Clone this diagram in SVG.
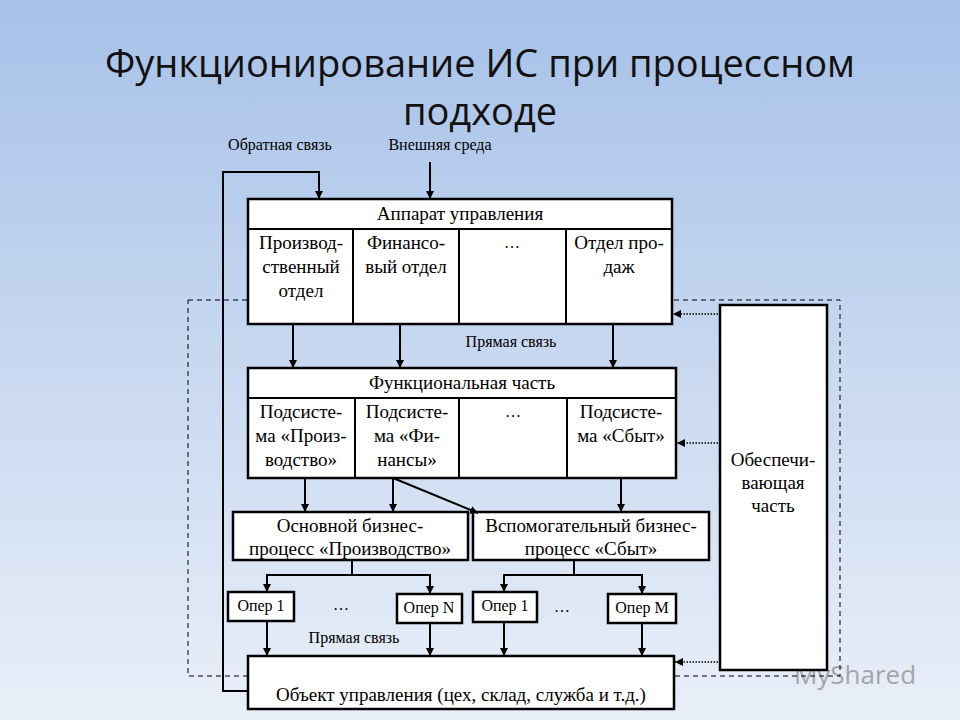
<svg xmlns="http://www.w3.org/2000/svg" width="960" height="720" viewBox="0 0 960 720">
<defs>
<linearGradient id="bg" x1="0" y1="0" x2="0" y2="1"><stop offset="0" stop-color="#a6c1e8"/><stop offset="1" stop-color="#e9eff8"/></linearGradient>
<marker id="a" viewBox="0 0 10 10" refX="10" refY="5" markerWidth="8" markerHeight="8" markerUnits="userSpaceOnUse" orient="auto"><path d="M0,0L10,5L0,10z" fill="#000"/></marker>
<style>
.b{fill:#fff;stroke:#000;stroke-width:2.5}
.l{fill:none;stroke:#000;stroke-width:2}
.t{font-family:"Liberation Serif",serif;font-size:19px;text-anchor:middle;fill:#000}
.s{font-family:"Liberation Serif",serif;font-size:16px;text-anchor:middle;fill:#000}
.d{fill:none;stroke:#000;stroke-width:1;stroke-dasharray:5,4}
.o{fill:none;stroke:#000;stroke-width:1.5;stroke-dasharray:1.5,1.5}
</style>
</defs>
<rect width="960" height="720" fill="url(#bg)"/>
<text x="480" y="77" font-family="Open Sans,Liberation Sans,sans-serif" font-size="38" text-anchor="middle" fill="#111">Функционирование ИС при процессном</text>
<text x="480" y="125" font-family="Open Sans,Liberation Sans,sans-serif" font-size="38" text-anchor="middle" fill="#111">подходе</text>
<text x="855" y="684" font-family="Open Sans,Liberation Sans,sans-serif" font-size="26" text-anchor="middle" fill="#888" opacity="0.7">MyShared</text>
<text class="s" x="280" y="150">Обратная связь</text>
<text class="s" x="440" y="150">Внешняя среда</text>
<rect class="d" x="188" y="300" width="652" height="376"/>
<g id="apparat">
<rect class="b" x="248" y="199" width="424" height="125"/>
<line class="l" x1="248" y1="229" x2="672" y2="229"/>
<line class="l" x1="353" y1="229" x2="353" y2="324" stroke-width="3"/>
<line class="l" x1="459" y1="229" x2="459" y2="324" stroke-width="3"/>
<line class="l" x1="566" y1="229" x2="566" y2="324" stroke-width="3"/>
<text class="t" x="460" y="220">Аппарат управления</text>
<text class="t" x="301" y="249">Производ-</text><text class="t" x="301" y="273">ственный</text><text class="t" x="301" y="297">отдел</text>
<text class="t" x="406" y="249">Финансо-</text><text class="t" x="406" y="273">вый отдел</text>
<text class="s" x="512" y="248" fill="#777">…</text>
<text class="t" x="619" y="249">Отдел про-</text><text class="t" x="619" y="273">даж</text>
</g>
<g id="func">
<rect class="b" x="248" y="368" width="428" height="110"/>
<line class="l" x1="248" y1="398" x2="676" y2="398"/>
<line class="l" x1="355" y1="398" x2="355" y2="478"/>
<line class="l" x1="459" y1="398" x2="459" y2="478"/>
<line class="l" x1="567" y1="398" x2="567" y2="478"/>
<text class="t" x="462" y="389">Функциональная часть</text>
<text class="t" x="301" y="418">Подсисте-</text><text class="t" x="301" y="442">ма «Произ-</text><text class="t" x="301" y="466">водство»</text>
<text class="t" x="407" y="418">Подсисте-</text><text class="t" x="407" y="442">ма «Фи-</text><text class="t" x="407" y="466">нансы»</text>
<text class="s" x="513" y="417" fill="#777">…</text>
<text class="t" x="621" y="418">Подсисте-</text><text class="t" x="621" y="442">ма «Сбыт»</text>
</g>
<g id="bp1"><rect class="b" x="233" y="512" width="235" height="48"/>
<text class="t" x="350" y="532">Основной бизнес-</text><text class="t" x="350" y="555">процесс «Производство»</text></g>
<g id="bp2"><rect class="b" x="473" y="512" width="236" height="48"/>
<text class="t" x="591" y="532">Вспомогательный бизнес-</text><text class="t" x="591" y="555">процесс «Сбыт»</text></g>
<g id="op1"><rect class="b" x="228" y="592" width="66" height="29"/><text class="s" x="261" y="611">Опер 1</text></g>
<g id="opN"><rect class="b" x="397" y="594" width="65" height="29"/><text class="s" x="429" y="613">Опер N</text></g>
<g id="op1b"><rect class="b" x="473" y="592" width="64" height="30"/><text class="s" x="505" y="611">Опер 1</text></g>
<g id="opM"><rect class="b" x="608" y="594" width="68" height="29"/><text class="s" x="642" y="613">Опер M</text></g>
<g id="obesp"><rect class="b" x="720" y="305" width="107" height="365"/>
<text class="t" x="773" y="466">Обеспечи-</text><text class="t" x="773" y="489">вающая</text><text class="t" x="773" y="512">часть</text></g>
<g id="obj"><rect class="b" x="248" y="656" width="426" height="53"/>
<text class="t" x="461" y="701" font-size="21">Объект управления (цех, склад, служба и т.д.)</text></g>
<text class="s" x="341" y="610" fill="#777">…</text>
<text class="s" x="562" y="612" fill="#777">…</text>
<text class="s" x="511" y="347">Прямая связь</text>
<text class="s" x="354" y="643">Прямая связь</text>
<g id="connectors">
<path class="l" d="M248,691H223V172H319V199" marker-end="url(#a)"/>
<path class="l" d="M430,162V199" marker-end="url(#a)"/>
<path class="l" d="M293,324V368" marker-end="url(#a)"/>
<path class="l" d="M400,324V368" marker-end="url(#a)"/>
<path class="l" d="M613,324V368" marker-end="url(#a)"/>
<path class="l" d="M305,478V512" marker-end="url(#a)"/>
<path class="l" d="M393,478V512" marker-end="url(#a)"/>
<path class="l" d="M393,478L478,513" marker-end="url(#a)"/>
<path class="l" d="M621,478V512" marker-end="url(#a)"/>
<path class="l" d="M352,560V575"/>
<path class="l" d="M267,592V575H430V594" marker-end="url(#a)"/>
<path class="l" d="M267,576V592" marker-end="url(#a)"/>
<path class="l" d="M574,560V575"/>
<path class="l" d="M504,592V575H642V594" marker-end="url(#a)"/>
<path class="l" d="M504,576V592" marker-end="url(#a)"/>
<path class="l" d="M267,621V656" marker-end="url(#a)"/>
<path class="l" d="M430,623V656" marker-end="url(#a)"/>
<path class="l" d="M504,622V656" marker-end="url(#a)"/>
<path class="l" d="M642,623V656" marker-end="url(#a)"/>
<path class="o" d="M718,314H673" marker-end="url(#a)"/>
<path class="o" d="M718,443H677" marker-end="url(#a)"/>
<path class="o" d="M718,662H675" marker-end="url(#a)"/>
</g>
</svg>
